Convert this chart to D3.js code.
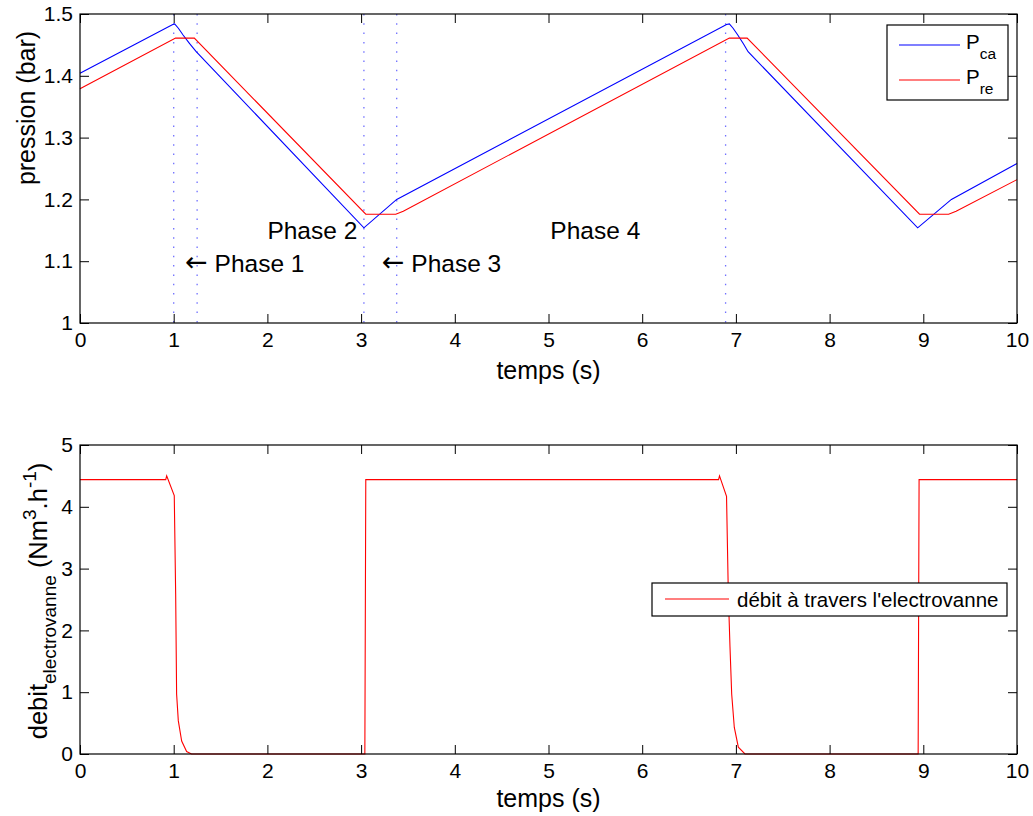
<!DOCTYPE html>
<html><head><meta charset="utf-8">
<script src="https://cdn.jsdelivr.net/npm/d3@7"></script>
<style>
body{margin:0;background:#fff;}
text{font-family:"Liberation Sans",Arial,sans-serif;fill:#000;}
</style></head>
<body>
<svg id="c" width="1033" height="816"></svg>
<script>
// ---- data ----
const timeTicks = [0,1,2,3,4,5,6,7,8,9,10];
const timeTickLabels = ["0","1","2","3","4","5","6","7","8","9","10"];
const pressTicks = [1,1.1,1.2,1.3,1.4,1.5];
const pressTickLabels = ["1","1.1","1.2","1.3","1.4","1.5"];
const debitTicks = [0,1,2,3,4,5];
const debitTickLabels = ["0","1","2","3","4","5"];

const pcaT = [0,0.99,1.01,1.05,1.10,1.17,1.24,3.03,3.38,6.90,6.93,6.97,7.02,7.08,7.13,8.94,9.30,10];
const pcaV = [1.404,1.483,1.484,1.477,1.466,1.452,1.439,1.154,1.200,1.483,1.484,1.477,1.466,1.452,1.439,1.154,1.200,1.258];
const preT = [0,1.02,1.22,3.05,3.37,3.45,6.93,7.12,8.96,9.27,9.35,10];
const preV = [1.379,1.461,1.461,1.176,1.176,1.181,1.461,1.461,1.176,1.176,1.181,1.232];
const phaseLines = [1.0,1.25,3.03,3.38,6.89];
const phaseArrows = ["","\u2190","\u2190",""];
const phaseLabels = ["Phase 2","Phase 1","Phase 3","Phase 4"];
const phaseLabelT = [2.0,1.12,3.22,5.02];
const phaseLabelV = [1.136,1.083,1.083,1.136];

const debitT = [0,0.915,0.925,1.006,1.021,1.031,1.049,1.085,1.138,1.19,3.04,3.05,6.815,6.825,6.90,6.919,6.937,6.955,6.983,7.026,7.097,8.945,8.955,10];
const debitV = [4.44,4.44,4.50,4.18,2.59,0.97,0.54,0.21,0.04,0,0,4.44,4.44,4.50,4.17,2.60,1.73,0.97,0.43,0.11,0,0,4.44,4.44];

// ---- layout ----
const svg = d3.select("#c");
const L = 80, R = 1017;
const top1 = 14, bot1 = 323, top2 = 445, bot2 = 754;
const x1 = d3.scaleLinear().domain([0,10]).range([L,R]);
const y1 = d3.scaleLinear().domain([1,1.5]).range([bot1,top1]);
const y2 = d3.scaleLinear().domain([0,5]).range([bot2,top2]);
const TS = 9, tickFont = 21;

function frame(yScale, yTicks, yLabels, top, bot){
  const g = svg.append("g");
  const ax = g.append("g").attr("transform",`translate(0,${bot})`)
    .call(d3.axisBottom(x1).tickValues(timeTicks).tickFormat((d,i)=>timeTickLabels[i]).tickSize(-TS).tickPadding(9));
  const axT = g.append("g").attr("transform",`translate(0,${top})`)
    .call(d3.axisTop(x1).tickValues(timeTicks).tickFormat("").tickSize(-TS));
  const ay = g.append("g").attr("transform",`translate(${L},0)`)
    .call(d3.axisLeft(yScale).tickValues(yTicks).tickFormat((d,i)=>yLabels[i]).tickSize(-TS).tickPadding(7));
  const ayR = g.append("g").attr("transform",`translate(${R},0)`)
    .call(d3.axisRight(yScale).tickValues(yTicks).tickFormat("").tickSize(-TS));
  [ax,axT,ay,ayR].forEach(a=>{
    a.select(".domain").remove();
    a.selectAll("line").attr("stroke","#000").attr("stroke-width",1);
    a.selectAll("text").attr("font-size",tickFont).attr("font-family","Liberation Sans, Arial, sans-serif").attr("fill","#000");
  });
  g.append("rect").attr("x",L).attr("y",top).attr("width",R-L).attr("height",bot-top)
    .attr("fill","none").attr("stroke","#000").attr("stroke-width",1.2);
}

// ---- top chart ----
const gTop = svg.append("g");
gTop.selectAll("line.ph").data(phaseLines).join("line")
  .attr("x1",d=>x1(d)).attr("x2",d=>x1(d)).attr("y1",top1).attr("y2",bot1)
  .attr("stroke","#7070ff").attr("stroke-width",1.3).attr("stroke-dasharray","1.5,7.8");
const line1 = d3.line().x(d=>x1(d[0])).y(d=>y1(d[1]));
gTop.append("path").datum(pcaT.map((t,i)=>[t,pcaV[i]])).attr("d",line1)
  .attr("fill","none").attr("stroke","#0000ff").attr("stroke-width",1.1);
gTop.append("path").datum(preT.map((t,i)=>[t,preV[i]])).attr("d",line1)
  .attr("fill","none").attr("stroke","#ff0000").attr("stroke-width",1.1);
const pt = gTop.selectAll("text.phase").data(phaseLabels).join("text")
  .attr("x",(d,i)=>x1(phaseLabelT[i])).attr("y",(d,i)=>y1(phaseLabelV[i]))
  .attr("font-size",24.5);
pt.each(function(d,i){
  const s = d3.select(this);
  if (phaseArrows[i]) {
    s.append("tspan").attr("font-family","DejaVu Sans").attr("font-size",27).attr("dy",-1).text(phaseArrows[i]);
    s.append("tspan").attr("dx",7).attr("dy",1).text(d);
  } else s.text(d);
});
frame(y1,pressTicks,pressTickLabels,top1,bot1);

// top legend
const lg1 = svg.append("g");
lg1.append("rect").attr("x",887).attr("y",25).attr("width",121).attr("height",75)
  .attr("fill","#fff").attr("stroke","#000").attr("stroke-width",1.2);
const legItems = [{c:"#0000ff",m:"P",s:"ca",y:45},{c:"#ff0000",m:"P",s:"re",y:80}];
legItems.forEach(it=>{
  lg1.append("line").attr("x1",899).attr("x2",960).attr("y1",it.y).attr("y2",it.y)
    .attr("stroke",it.c).attr("stroke-width",1.1);
  const t = lg1.append("text").attr("x",966).attr("y",it.y+4).attr("font-size",20.5);
  t.append("tspan").text(it.m);
  t.append("tspan").attr("dy",10).attr("font-size",15.5).text(it.s);
});

// axis labels top
svg.append("text").attr("x",(L+R)/2).attr("y",379).attr("text-anchor","middle")
  .attr("font-size",25).text("temps (s)");
svg.append("text").attr("transform","translate(35,108) rotate(-90)").attr("text-anchor","middle")
  .attr("font-size",25).text("pression (bar)");

// ---- bottom chart ----
const gBot = svg.append("g");
const line2 = d3.line().x(d=>x1(d[0])).y(d=>y2(d[1]));
gBot.append("path").datum(debitT.map((t,i)=>[t,debitV[i]])).attr("d",line2)
  .attr("fill","none").attr("stroke","#ff0000").attr("stroke-width",1.1);
frame(y2,debitTicks,debitTickLabels,top2,bot2);

const lg2 = svg.append("g");
lg2.append("rect").attr("x",652).attr("y",583).attr("width",355).attr("height",33)
  .attr("fill","#fff").attr("stroke","#000").attr("stroke-width",1.2);
lg2.append("line").attr("x1",665).attr("x2",729).attr("y1",599).attr("y2",599)
  .attr("stroke","#ff0000").attr("stroke-width",1.1);
lg2.append("text").attr("x",737).attr("y",607).attr("font-size",20.5).text("débit à travers l'electrovanne");

svg.append("text").attr("x",(L+R)/2).attr("y",807).attr("text-anchor","middle")
  .attr("font-size",25).text("temps (s)");
const yl = svg.append("text").attr("transform","translate(47,601) rotate(-90)").attr("text-anchor","middle")
  .attr("font-size",25.5);
yl.append("tspan").text("debit");
yl.append("tspan").attr("dy",9).attr("font-size",19).text("electrovanne");
yl.append("tspan").attr("dy",-9).text(" (Nm");
yl.append("tspan").attr("dy",-11).attr("font-size",19).text("3");
yl.append("tspan").attr("dy",11).text(".h");
yl.append("tspan").attr("dy",-11).attr("font-size",19).text("-1");
yl.append("tspan").attr("dy",11).text(")");
</script>
</body></html>
